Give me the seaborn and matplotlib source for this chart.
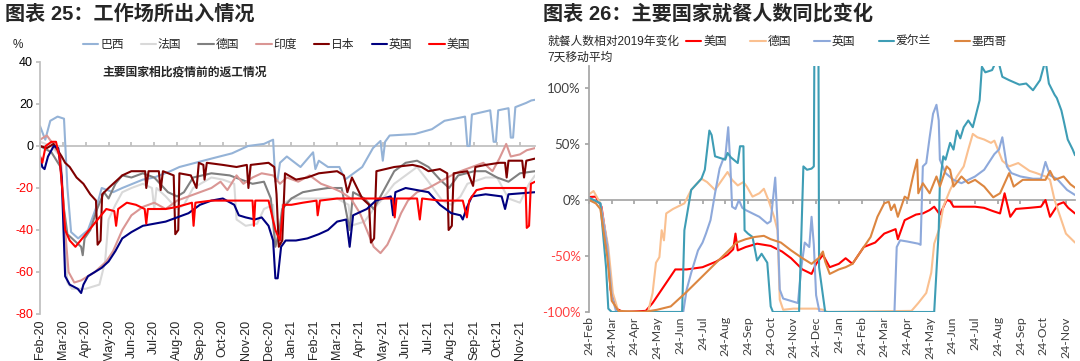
import matplotlib
matplotlib.use("Agg")
import matplotlib.pyplot as plt
import seaborn as sns
import pandas as pd

# ---- 图表25 工作场所出入情况 (x = 自2020年2月中旬起的月数, y = %) ----
brazil = [(0, 9.5), (0.23, 3), (0.45, 12), (0.77, 14), (1.05, 13), (1.2, -20), (1.36, -41), (1.67, -44),
          (2.1, -40), (2.5, -28), (2.7, -20), (3.2, -22), (3.6, -20), (4.5, -16), (5.0, -15), (5.7, -12),
          (6.1, -10), (6.8, -8), (7.5, -6), (8.4, -3.5), (9.1, 0), (9.8, 1), (10.2, 3), (10.3, -17),
          (10.4, -16), (10.5, -8), (10.8, -5), (11.4, -10), (11.95, -3), (12.05, -11), (12.2, -7),
          (12.6, -10), (13.1, -10), (13.35, -16), (13.6, -14), (14.1, -10), (14.57, -1), (14.9, 2.4),
          (15.0, -7), (15.1, 2), (15.3, 5), (16.4, 5.7), (17.15, 8), (17.7, 12), (18.6, 14), (18.7, 0),
          (18.8, 0), (18.9, 15), (19.7, 17), (19.85, 2), (19.95, 2), (20.05, 17), (20.5, 18), (20.6, 4),
          (20.7, 4), (20.8, 18.5), (21.27, 20.5), (21.5, 21.7), (21.66, 22)]
france = [(0, 2), (0.5, 0), (0.9, -5), (1.05, -40), (1.2, -65), (1.4, -68), (2.0, -68), (2.6, -66),
          (2.85, -55), (3.0, -35), (3.3, -28), (3.6, -22), (4.0, -20), (4.5, -18), (4.9, -20), (5.0, -30),
          (5.1, -20), (5.5, -24), (6.0, -30), (6.3, -28), (6.7, -20), (7.5, -15), (8.0, -16), (8.5, -18),
          (8.6, -35), (9.0, -38), (9.5, -37), (9.8, -30), (10.2, -28), (10.33, -45), (10.5, -40),
          (10.6, -28), (11.0, -25), (12.0, -25), (13.0, -25), (13.5, -28), (13.6, -38), (14.2, -36),
          (14.6, -30), (15.0, -25), (15.5, -18), (16.0, -14), (16.5, -10), (17.0, -17), (17.6, -26),
          (18.0, -28), (18.4, -24), (18.7, -18), (19.5, -15), (20.0, -15), (20.5, -25), (21.0, -27),
          (21.4, -18), (21.66, -14)]
germany = [(0, 0), (0.5, -3), (0.9, -10), (1.05, -30), (1.2, -42), (1.5, -45), (1.8, -48), (1.87, -52),
           (1.95, -44), (2.2, -40), (2.5, -30), (2.8, -22), (3.0, -25), (3.3, -18), (3.6, -14), (4.0, -15),
           (4.5, -13), (5.0, -15), (5.6, -22), (6.0, -24), (6.3, -22), (6.7, -15), (7.5, -13), (8.3, -14),
           (8.8, -16), (9.3, -18), (9.8, -17), (10.1, -25), (10.3, -48), (10.45, -42), (10.6, -30),
           (11.0, -25), (11.5, -22), (12.0, -21), (12.6, -20), (13.2, -20), (13.55, -40), (13.7, -22),
           (14.2, -25), (14.6, -30), (15.0, -22), (15.5, -12), (16.0, -8), (16.5, -7), (17.0, -10),
           (17.5, -16), (17.9, -20), (18.3, -14), (19.0, -12), (19.5, -12), (20.0, -15), (20.5, -17),
           (21.0, -13), (21.66, -12)]
india = [(0, 3), (0.3, 5), (0.5, 2), (0.9, -5), (1.1, -40), (1.25, -60), (1.5, -65), (1.8, -64), (2.1, -62),
         (2.4, -60), (2.6, -58), (2.9, -55), (3.2, -50), (3.6, -40), (4.0, -33), (4.5, -29), (5.0, -27),
         (5.5, -30), (6.0, -26), (6.5, -24), (7.0, -22), (7.5, -20), (7.9, -17), (8.2, -21), (8.6, -14),
         (8.9, -18), (9.3, -15), (9.7, -13), (10.2, -14), (10.5, -18), (10.8, -15), (11.3, -17),
         (11.8, -14), (12.3, -18), (12.8, -20), (13.2, -22), (13.6, -25), (14.0, -32), (14.3, -40),
         (14.6, -48), (14.9, -51), (15.2, -47), (15.5, -40), (15.8, -32), (16.1, -26), (16.5, -22),
         (17.0, -20), (17.5, -17), (18.0, -14), (18.4, -12), (18.9, -10), (19.4, -8), (19.8, -12),
         (20.1, -6), (20.4, 1), (20.6, -5), (21.0, -4), (21.3, -2), (21.66, -1)]
japan = [(0, 0), (0.3, -1), (0.6, 1), (0.8, -2.4), (0.95, -5), (1.1, -8), (1.3, -10), (1.6, -15), (1.9, -18),
         (2.2, -23), (2.45, -26), (2.52, -47), (2.65, -45), (2.72, -23), (3.0, -20), (3.3, -17), (3.6, -14),
         (4.0, -12), (4.6, -12), (4.65, -20), (4.75, -12), (5.2, -12), (5.28, -21), (5.38, -12),
         (5.85, -14), (5.92, -42), (6.05, -40), (6.1, -13), (6.6, -14), (6.85, -20), (6.95, -8),
         (7.15, -9), (7.2, -16), (7.3, -8), (8.0, -9), (8.6, -10), (9.05, -9), (9.12, -20), (9.22, -9),
         (10.0, -8), (10.25, -10), (10.35, -23), (10.45, -48), (10.6, -45), (10.72, -13), (11.2, -16),
         (11.7, -15), (12.2, -13), (13.0, -12), (13.3, -14), (13.45, -22), (13.65, -15), (14.1, -25),
         (14.4, -28), (14.48, -46), (14.62, -44), (14.72, -12), (15.5, -10), (16.3, -9), (16.7, -10),
         (17.0, -12), (17.5, -11), (17.82, -13), (17.88, -40), (18.02, -38), (18.1, -13), (18.7, -12),
         (18.95, -19), (19.05, -10), (19.5, -9), (20.1, -8), (20.35, -8), (20.42, -15), (20.5, -7),
         (21.1, -7), (21.18, -15), (21.28, -7), (21.66, -6)]
uk = [(0, -5), (0.1, -10), (0.2, -11), (0.35, -5), (0.6, 0), (0.8, -1), (0.95, -15), (1.1, -62), (1.3, -66),
      (1.65, -68), (1.8, -70), (1.9, -66), (2.1, -62), (2.4, -60), (2.7, -58), (3.0, -55), (3.3, -50),
      (3.6, -44), (4.0, -41), (4.5, -38), (5.0, -37), (5.5, -36), (6.0, -34), (6.5, -32), (7.0, -28),
      (7.5, -26), (8.0, -25), (8.5, -28), (8.7, -33), (9.0, -34), (9.4, -35), (9.7, -34), (10.0, -38),
      (10.2, -45), (10.3, -63), (10.4, -63), (10.55, -48), (10.75, -45), (11.2, -45), (11.7, -44),
      (12.2, -42), (12.6, -40), (13.0, -36), (13.4, -35), (13.55, -48), (13.7, -33), (14.3, -30),
      (14.7, -26), (15.0, -25), (15.35, -24), (15.45, -33), (15.55, -22), (16.0, -20), (17.0, -22),
      (17.5, -28), (18.0, -32), (18.4, -33), (18.5, -35), (18.65, -30), (18.9, -24), (19.5, -23),
      (20.2, -24), (20.35, -30), (20.5, -23), (21.66, -22)]
usa = [(0, -5), (0.1, -8), (0.25, 0), (0.5, 2), (0.7, 2), (0.85, -5), (1.0, -24), (1.1, -40), (1.3, -45),
       (1.55, -48), (1.7, -46), (2.0, -42), (2.3, -38), (2.6, -34), (2.9, -30), (3.25, -31), (3.33, -38),
       (3.42, -30), (3.8, -27), (4.2, -28), (4.58, -30), (4.65, -37), (4.72, -30), (5.5, -30), (6.0, -29),
       (6.65, -27), (6.72, -38), (6.8, -27), (7.5, -26), (8.0, -26), (8.5, -26), (9.3, -26), (9.36, -38),
       (9.42, -26), (10.0, -26), (10.3, -40), (10.5, -45), (10.65, -28), (11.0, -28), (11.5, -27),
       (12.1, -26), (12.15, -33), (12.25, -26), (13.0, -25), (14.0, -25), (15.0, -25), (15.45, -25),
       (15.52, -34), (15.6, -25), (16.5, -25), (16.62, -35), (16.72, -25), (17.5, -26), (18.5, -26),
       (18.68, -34), (18.78, -26), (19.1, -21), (19.5, -20), (20.0, -20), (20.8, -20), (21.25, -20),
       (21.3, -39), (21.4, -38), (21.48, -18), (21.66, -17)]

left_names = ["巴西", "法国", "德国", "印度", "日本", "英国", "美国"]
left_colors = ["#95B3D7", "#D9D9D9", "#808080", "#DA9694", "#7F0000", "#000080", "#FF0000"]
left_months = ["Feb-20", "Mar-20", "Apr-20", "May-20", "Jun-20", "Jul-20", "Aug-20", "Sep-20", "Oct-20",
               "Nov-20", "Dec-20", "Jan-21", "Feb-21", "Mar-21", "Apr-21", "May-21", "Jun-21", "Jul-21",
               "Aug-21", "Sep-21", "Oct-21", "Nov-21"]

# ---- 图表26 就餐人数同比变化 (x = 自2月24日起的月数, y = %) ----
us_dine = [(0, 2.7), (0.3, 3), (0.55, -6), (0.8, -40), (0.95, -80), (1.2, -97), (1.5, -100), (2.5, -99),
           (2.8, -92), (3.2, -80), (3.6, -68), (3.8, -62), (4.3, -62), (5.0, -60), (5.6, -55), (6.1, -49),
           (6.35, -44), (6.45, -30), (6.55, -45), (6.9, -42), (7.4, -39), (8.0, -41), (8.5, -46), (8.9, -52),
           (9.4, -62), (9.8, -66), (10.0, -57), (10.3, -49), (10.6, -60), (11.0, -57), (11.3, -52),
           (11.6, -57), (12.1, -42), (12.6, -38), (13.0, -30), (13.5, -26), (13.6, -35), (13.9, -18),
           (14.4, -13), (14.7, -12), (15.0, -9), (15.2, -6), (15.45, -13), (15.75, 0), (15.9, -1),
           (16.05, -6), (16.5, -6), (17.0, -6), (17.4, -7), (17.8, -10), (18.1, -12), (18.3, 6),
           (18.55, -15), (18.8, -8), (19.4, -7), (19.9, -6), (20.1, 0), (20.3, -15), (20.65, -4),
           (20.9, -2), (21.1, -7), (21.4, -12)]
de_dine = [(0, 5), (0.2, 8), (0.5, -3), (0.85, -42), (1.05, -83), (1.3, -100), (2.6, -100), (2.8, -83),
           (2.95, -56), (3.1, -51), (3.2, -27), (3.3, -36), (3.4, -12), (3.7, -8), (3.9, -6), (4.2, -3),
           (4.5, 9), (4.95, 19), (5.2, 16), (5.55, 9), (5.86, 18), (6.1, 25), (6.3, 18), (6.55, 13),
           (6.8, 16), (6.95, 12), (7.2, 3), (7.5, 6), (7.7, 10), (7.9, 0), (8.15, -15), (8.3, -27),
           (8.4, -89), (8.55, -98), (9.0, -97), (10.0, -97), (10.3, -98), (10.5, -100), (14.2, -99),
           (14.5, -92), (14.85, -83), (15.07, -65), (15.2, -39), (15.45, -24), (15.6, -6), (15.9, 9),
           (16.2, 21), (16.5, 30), (16.7, 45), (16.9, 59), (17.1, 56), (17.4, 54), (17.7, 51), (17.85, 53),
           (18.2, 35), (18.5, 30), (18.9, 33), (19.4, 26), (19.7, 24), (20.1, 21), (20.3, 18), (20.5, 0),
           (20.75, -15), (21.0, -30), (21.4, -38)]
uk_dine = [(0, 2), (0.5, -3), (0.8, -40), (1.0, -85), (1.2, -100), (4.15, -100), (4.3, -80), (4.5, -65),
           (4.8, -45), (5.0, -38), (5.15, -30), (5.35, -18), (5.55, 6), (5.75, 28), (5.9, 36), (6.0, 38),
           (6.13, 65), (6.22, 33), (6.3, -6), (6.45, -8), (6.6, 0), (6.75, -7), (6.9, -9), (7.2, -12),
           (7.5, -15), (7.85, -21), (8.0, -19), (8.2, 20), (8.3, -20), (8.4, -80), (8.55, -88), (9.2, -92),
           (9.35, -60), (9.5, -38), (9.7, -42), (9.8, -15), (9.9, -40), (10.0, -85), (10.15, -100),
           (13.45, -100), (13.55, -42), (13.7, -36), (14.0, -37), (14.5, -39), (14.6, -40), (14.7, 30),
           (14.85, 33), (15.0, 56), (15.15, 77), (15.3, 85), (15.4, 71), (15.45, 36), (15.7, 24),
           (16.05, 18), (16.4, 15), (17.0, 21), (17.4, 27), (17.85, 41), (18.05, 45), (18.2, 56),
           (18.4, 30), (18.6, 24), (19.0, 21), (19.55, 19), (19.9, 19), (20.1, 34), (20.3, 22), (20.6, 19),
           (21.05, 9), (21.4, 4.5)]
ie_dine = [(0, 2), (0.5, -3), (0.75, -60), (0.85, -97), (1.0, -100), (4.1, -100), (4.2, -27), (4.5, 9),
           (4.95, 19), (5.1, 27), (5.3, 62), (5.4, 58), (5.55, 39), (6.0, 36), (6.1, 42), (6.25, 38),
           (6.55, 33), (6.65, 48), (6.8, 48), (6.85, -27), (7.0, -30), (7.2, -33), (7.4, -54), (7.6, -48),
           (7.85, -56), (8.0, -95), (8.1, -100), (9.25, -100), (9.44, 30), (9.6, 27), (9.8, 28), (9.9, 30),
           (9.93, 160), (10.1, 160), (10.13, -60), (10.4, -100), (15.2, -100), (15.4, -27), (15.45, 15),
           (15.6, 39), (15.7, 36), (15.9, 51), (16.05, 45), (16.2, 62), (16.35, 55), (16.5, 65), (16.7, 71),
           (16.9, 65), (17.05, 77), (17.2, 89), (17.3, 119), (17.45, 114), (17.75, 116), (17.95, 125),
           (18.05, 122), (18.2, 110), (18.5, 107), (18.95, 103), (19.25, 104), (19.55, 98), (19.86, 107),
           (20.1, 125), (20.25, 104), (20.5, 94), (20.6, 91), (20.8, 80), (20.9, 71), (21.08, 54),
           (21.3, 45), (21.4, 40)]
mx_dine = [(0, 0), (0.3, -3), (0.5, -8), (0.8, -50), (1.0, -90), (1.3, -99), (2.4, -100), (3.0, -98),
           (3.6, -95), (4.3, -82), (4.9, -70), (5.4, -60), (5.9, -50), (6.3, -42), (6.5, -38), (6.9, -35),
           (7.3, -33), (7.7, -32), (8.0, -35), (8.45, -38), (8.9, -45), (9.4, -52), (9.8, -57), (10.1, -52),
           (10.3, -46), (10.4, -55), (10.6, -66), (11.0, -62), (11.3, -60), (11.6, -57), (12.0, -45),
           (12.4, -33), (12.7, -15), (13.0, -3), (13.2, -1.5), (13.3, -9), (13.45, -4), (13.6, -15),
           (13.9, 3), (14.05, 1), (14.2, 15), (14.3, 24), (14.45, 36), (14.5, 6), (14.7, 15), (15.0, 6),
           (15.3, 21), (15.45, 12), (15.75, 30), (15.9, 27), (16.05, 12), (16.4, 21), (16.7, 15),
           (17.0, 18), (17.4, 12), (17.8, 2.4), (18.1, 6), (18.5, 24), (18.7, 12), (19.1, 18), (19.7, 18),
           (20.1, 18), (20.3, 26), (20.5, 18), (20.9, 21), (21.2, 14), (21.4, 11)]

right_names = ["美国", "德国", "英国", "爱尔兰", "墨西哥"]
right_colors = ["#FF0000", "#FAC090", "#8EA9DB", "#3E9DB5", "#DC8640"]
right_months = ["24-Feb", "24-Mar", "24-Apr", "24-May", "24-Jun", "24-Jul", "24-Aug", "24-Sep", "24-Oct",
                "24-Nov", "24-Dec", "24-Jan", "24-Feb", "24-Mar", "24-Apr", "24-May", "24-Jun", "24-Jul",
                "24-Aug", "24-Sep", "24-Oct", "24-Nov"]


def to_frame(names, series):
    rows = [(n, m, v) for n, pts in zip(names, series) for m, v in pts]
    return pd.DataFrame(rows, columns=["国家", "月", "值"])


df_l = to_frame(left_names, [brazil, france, germany, india, japan, uk, usa])
df_r = to_frame(right_names, [us_dine, de_dine, uk_dine, ie_dine, mx_dine])

sns.set_theme(style="white")
plt.rcParams["font.family"] = ["Liberation Sans", "Noto Sans CJK SC"]
plt.rcParams["axes.unicode_minus"] = False

W, H = 1080, 361
fig = plt.figure(figsize=(W / 100, H / 100), dpi=100)
ax1 = fig.add_axes([40 / W, 1 - 314 / H, 495 / W, 252 / H])
ax2 = fig.add_axes([589 / W, 1 - 312 / H, 486 / W, 246.4 / H])

sns.lineplot(data=df_l, x="月", y="值", hue="国家", hue_order=left_names,
             palette=dict(zip(left_names, left_colors)), estimator=None, sort=False,
             linewidth=1.5, ax=ax1)
sns.lineplot(data=df_r, x="月", y="值", hue="国家", hue_order=right_names,
             palette=dict(zip(right_names, right_colors)), estimator=None, sort=False,
             linewidth=1.5, ax=ax2)

# left axes
ax1.set_xlim(0, 21.66)
ax1.set_ylim(-80, 40)
ax1.set_xticks(range(len(left_months)))
ax1.set_xticklabels(left_months, rotation=90)
ax1.set_yticks(range(-80, 41, 20))
ax1.set_xlabel("")
ax1.set_ylabel("")
for s in ["top", "right", "bottom"]:
    ax1.spines[s].set_visible(False)
ax1.spines["left"].set_color("#BFBFBF")
ax1.tick_params(axis="y", length=3, color="#BFBFBF", labelsize=9, pad=2, left=True)
ax1.tick_params(axis="x", length=0, labelsize=9, pad=4)
for lbl, val in zip(ax1.get_yticklabels(), ax1.get_yticks()):
    lbl.set_color("black" if val >= 0 else "#FF0000")
sec1 = ax1.secondary_xaxis(80 / 120)
sec1.set_xticks(range(len(left_months)))
sec1.tick_params(axis="x", length=3, color="#BFBFBF", labeltop=False, labelbottom=False)
for sp in sec1.spines.values():
    sp.set_color("#BFBFBF")

sns.move_legend(ax1, "center left", bbox_to_anchor=(83 / W, 1 - 45 / H), bbox_transform=fig.transFigure,
                ncol=7, frameon=False, title="", handlelength=1.3, handletextpad=0.15,
                columnspacing=1.45, fontsize=8.5, borderaxespad=0, borderpad=0)

# right axes
ax2.set_xlim(0, 21.4)
ax2.set_ylim(-100, 120)
ax2.set_xticks(range(len(right_months)))
ax2.set_xticklabels(right_months, rotation=90, family=["Lato", "DejaVu Sans"], color="#404040")
ax2.set_yticks([-100, -50, 0, 50, 100])
ax2.set_yticklabels([f"{v}%" for v in [-100, -50, 0, 50, 100]], family=["Lato", "DejaVu Sans"])
ax2.set_xlabel("")
ax2.set_ylabel("")
for s in ["top", "right", "bottom"]:
    ax2.spines[s].set_visible(False)
ax2.spines["left"].set_color("#A6A6A6")
ax2.tick_params(axis="y", length=3, color="#A6A6A6", labelsize=9.5, pad=3, left=True)
ax2.tick_params(axis="x", length=0, labelsize=8.8, pad=3)
for lbl, val in zip(ax2.get_yticklabels(), ax2.get_yticks()):
    lbl.set_color("#404040" if val >= 0 else "#FF4040")
sec2 = ax2.secondary_xaxis(100 / 220)
sec2.set_xticks(range(len(right_months)))
sec2.tick_params(axis="x", length=3, color="#A6A6A6", labeltop=False, labelbottom=False)
for sp in sec2.spines.values():
    sp.set_color("#A6A6A6")

sns.move_legend(ax2, "center left", bbox_to_anchor=(686 / W, 1 - 42 / H), bbox_transform=fig.transFigure,
                ncol=5, frameon=False, title="", handlelength=1.3, handletextpad=0.15,
                columnspacing=2.0, fontsize=8.5, borderaxespad=0, borderpad=0)

# texts
fig.text(5 / W, 1 - 14 / H, "图表 25：工作场所出入情况", fontsize=14.5, fontweight="bold", va="center")
fig.text(543 / W, 1 - 14 / H, "图表 26：主要国家就餐人数同比变化", fontsize=14.5, fontweight="bold", va="center")
fig.text(13 / W, 1 - 45 / H, "%", fontsize=8.5, va="center")
fig.text(102 / W, 1 - 72 / H, "主要国家相比疫情前的返工情况", fontsize=8.5, fontweight="bold", va="center")
fig.text(547 / W, 1 - 42 / H, "就餐人数相对2019年变化", fontsize=8.5, va="center", color="#262626")
fig.text(547 / W, 1 - 58 / H, "7天移动平均", fontsize=8.5, va="center", color="#262626")

fig.savefig("out.png", dpi=100)
